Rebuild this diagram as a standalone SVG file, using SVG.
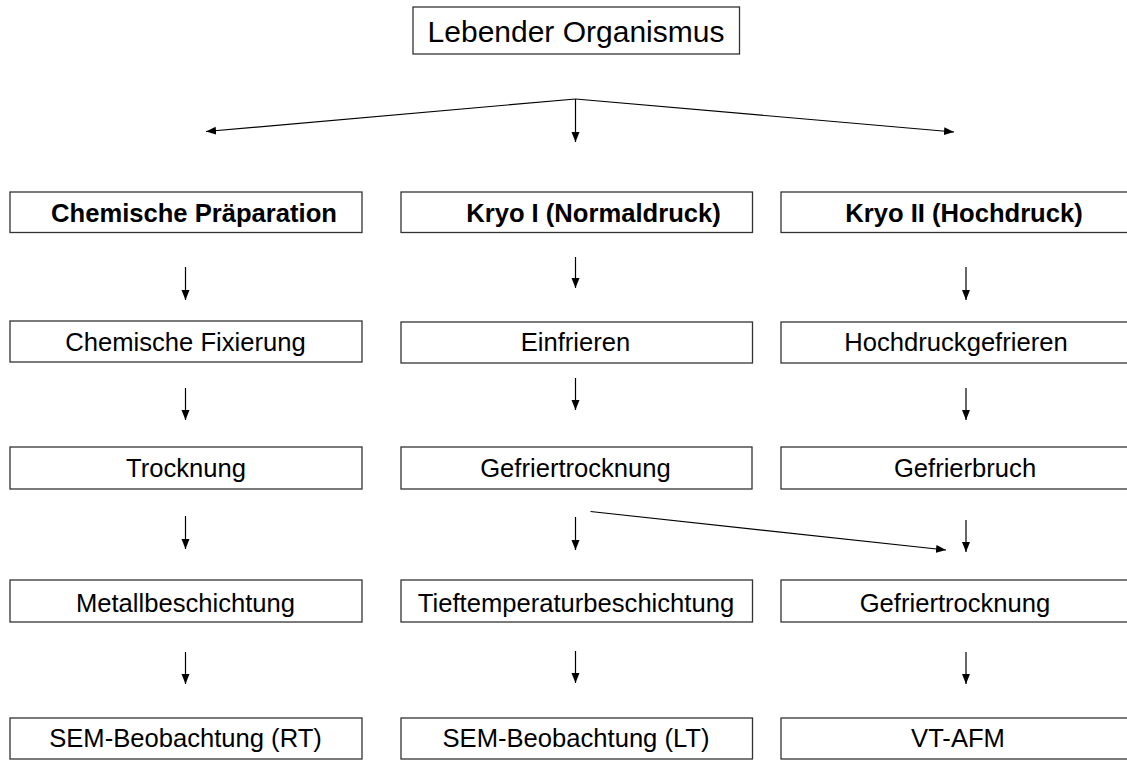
<svg xmlns="http://www.w3.org/2000/svg" width="1127" height="761" viewBox="0 0 1127 761">
<style>
.box{fill:#fff;stroke:#333;stroke-width:1.3}
.t{font-family:"Liberation Sans",Arial,sans-serif;font-size:25.6px;fill:#000;text-anchor:middle}
.b{font-weight:bold}
.title{font-size:30px}
.c{stroke:#000;stroke-width:1.2;fill:none;marker-end:url(#ah)}
</style>
<defs>
<marker id="ah" markerUnits="userSpaceOnUse" markerWidth="11" markerHeight="9" refX="10" refY="4" orient="auto">
<path d="M0,0 L10,4 L0,8 Z" fill="#000"/>
</marker>
</defs>
<rect width="1127" height="761" fill="#fff"/>
<g id="connectors">
<line class="c" x1="575.5" y1="99" x2="206" y2="131.5"/>
<line class="c" x1="575.5" y1="99" x2="575.5" y2="142"/>
<line class="c" x1="575.5" y1="99" x2="954" y2="132"/>
<line class="c" x1="185.5" y1="267" x2="185.5" y2="300"/>
<line class="c" x1="185.5" y1="388" x2="185.5" y2="420"/>
<line class="c" x1="185.5" y1="516" x2="185.5" y2="549"/>
<line class="c" x1="185.5" y1="652" x2="185.5" y2="684"/>
<line class="c" x1="575.5" y1="257" x2="575.5" y2="288"/>
<line class="c" x1="575.5" y1="378" x2="575.5" y2="410"/>
<line class="c" x1="575.5" y1="517" x2="575.5" y2="550"/>
<line class="c" x1="575.5" y1="651" x2="575.5" y2="683"/>
<line class="c" x1="966" y1="267" x2="966" y2="300"/>
<line class="c" x1="966" y1="388" x2="966" y2="420"/>
<line class="c" x1="966" y1="520" x2="966" y2="552"/>
<line class="c" x1="966" y1="652" x2="966" y2="684"/>
<line class="c" x1="590.5" y1="511.5" x2="946" y2="550"/>
</g>
<g id="n-root"><rect class="box" x="413" y="7" width="326.5" height="47"/><text class="t title" x="576" y="42">Lebender Organismus</text></g>
<g id="n-chem"><rect class="box" x="10" y="192" width="352" height="40.5"/><text class="t b" x="194" y="222">Chemische Präparation</text></g>
<g id="n-kryo1"><rect class="box" x="401" y="192" width="351.5" height="40.5"/><text class="t b" x="593.5" y="222">Kryo I (Normaldruck)</text></g>
<g id="n-kryo2"><rect class="box" x="781" y="192" width="360" height="40.5"/><text class="t b" x="964" y="222">Kryo II (Hochdruck)</text></g>
<g id="n-fix"><rect class="box" x="10" y="321" width="352" height="41"/><text class="t" x="185.5" y="351">Chemische Fixierung</text></g>
<g id="n-einf"><rect class="box" x="401" y="322" width="351.5" height="41"/><text class="t" x="575.5" y="351">Einfrieren</text></g>
<g id="n-hdg"><rect class="box" x="781" y="322" width="360" height="41"/><text class="t" x="956" y="351">Hochdruckgefrieren</text></g>
<g id="n-trock"><rect class="box" x="10" y="447" width="352" height="42"/><text class="t" x="186" y="477">Trocknung</text></g>
<g id="n-gft1"><rect class="box" x="401" y="447" width="351" height="42"/><text class="t" x="575.5" y="477">Gefriertrocknung</text></g>
<g id="n-gfb"><rect class="box" x="781" y="447" width="360" height="42"/><text class="t" x="965" y="477">Gefrierbruch</text></g>
<g id="n-metall"><rect class="box" x="10" y="580" width="352" height="42"/><text class="t" x="185.5" y="611.5">Metallbeschichtung</text></g>
<g id="n-tief"><rect class="box" x="401" y="580" width="351.5" height="42"/><text class="t" x="576" y="611.5">Tieftemperaturbeschichtung</text></g>
<g id="n-gft2"><rect class="box" x="781" y="580" width="360" height="42"/><text class="t" x="955" y="611.5">Gefriertrocknung</text></g>
<g id="n-semrt"><rect class="box" x="10" y="718" width="352" height="41"/><text class="t" x="185.5" y="747">SEM-Beobachtung (RT)</text></g>
<g id="n-semlt"><rect class="box" x="401" y="718" width="351.5" height="41"/><text class="t" x="576" y="747">SEM-Beobachtung (LT)</text></g>
<g id="n-vtafm"><rect class="box" x="781" y="718" width="360" height="41"/><text class="t" x="958" y="747">VT-AFM</text></g>
</svg>
